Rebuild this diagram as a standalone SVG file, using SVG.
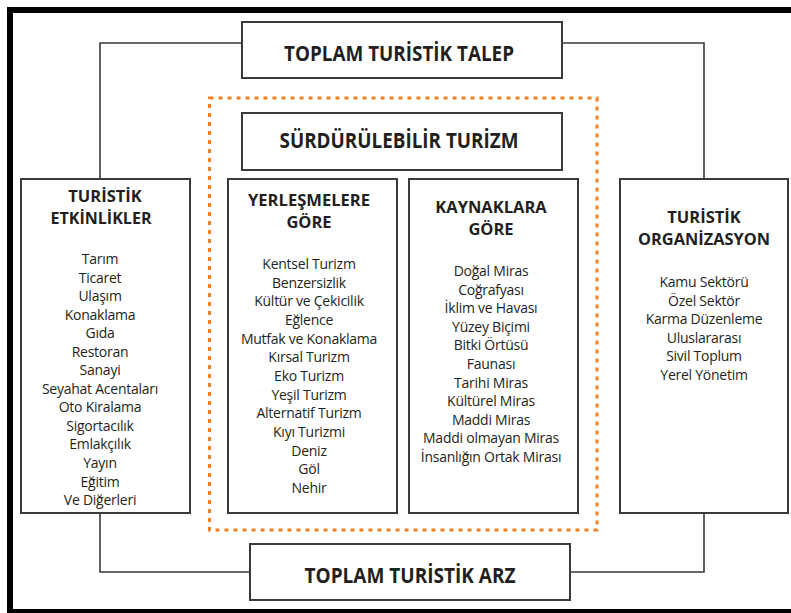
<svg xmlns="http://www.w3.org/2000/svg" width="791" height="613" viewBox="0 0 791 613">
  <style>
    .box { fill: #ffffff; stroke: #3a3a3a; stroke-width: 2; }
    .conn { fill: none; stroke: #3a3a3a; stroke-width: 1.6; }
    .big { font-family: "Open Sans", "Noto Sans", sans-serif; font-weight: bold; font-size: 21px; fill: #231f20; text-anchor: middle; }
    .ttl { font-family: "Open Sans", "Noto Sans", sans-serif; font-weight: bold; font-size: 16.5px; fill: #231f20; text-anchor: middle; }
    .itm { font-family: "Open Sans", "Noto Sans", sans-serif; font-size: 14px; fill: #231f20; text-anchor: middle; letter-spacing: -0.25px; }
  </style>
  <rect x="0" y="0" width="791" height="613" fill="#ffffff"/>
  <rect x="10" y="10" width="800" height="602" fill="none" stroke="#000000" stroke-width="6"/>

  <g id="connectors">
    <path class="conn" d="M242,43 H100 V179"/>
    <path class="conn" d="M562,43 H704 V179"/>
    <path class="conn" d="M100,513 V572 H250"/>
    <path class="conn" d="M704,513 V572 H570"/>
  </g>

  <g id="surdurulebilir-frame">
    <rect x="209.5" y="98" width="387.5" height="432" fill="none" stroke="#f47f20" stroke-width="3" stroke-dasharray="4 5"/>
  </g>

  <g id="talep">
    <rect class="box" x="242" y="22" width="320" height="56"/>
    <text class="big" x="399" y="61" textLength="230" lengthAdjust="spacingAndGlyphs">TOPLAM TURİSTİK TALEP</text>
  </g>

  <g id="surdurulebilir">
    <rect class="box" x="242" y="113" width="320" height="57"/>
    <text class="big" x="399" y="148" textLength="239" lengthAdjust="spacingAndGlyphs">SÜRDÜRÜLEBİLİR TURİZM</text>
  </g>

  <g id="arz">
    <rect class="box" x="250" y="544" width="320" height="56"/>
    <text class="big" x="410" y="583" textLength="211" lengthAdjust="spacingAndGlyphs">TOPLAM TURİSTİK ARZ</text>
  </g>

  <g id="etkinlikler">
    <rect class="box" x="21" y="179" width="169" height="334"/>
    <text class="ttl" x="105" y="202">TURİSTİK</text>
    <text class="ttl" x="101" y="224" textLength="101" lengthAdjust="spacingAndGlyphs">ETKİNLİKLER</text>
    <text class="itm" x="100" y="264">Tarım</text>
    <text class="itm" x="100" y="282.5">Ticaret</text>
    <text class="itm" x="100" y="301">Ulaşım</text>
    <text class="itm" x="100" y="319.6">Konaklama</text>
    <text class="itm" x="100" y="338.2">Gıda</text>
    <text class="itm" x="100" y="356.7">Restoran</text>
    <text class="itm" x="100" y="375.2">Sanayi</text>
    <text class="itm" x="100" y="393.8">Seyahat Acentaları</text>
    <text class="itm" x="100" y="412.3">Oto Kiralama</text>
    <text class="itm" x="100" y="430.9">Sigortacılık</text>
    <text class="itm" x="100" y="449.4">Emlakçılık</text>
    <text class="itm" x="100" y="468">Yayın</text>
    <text class="itm" x="100" y="486.5">Eğitim</text>
    <text class="itm" x="100" y="505">Ve Diğerleri</text>
  </g>

  <g id="yerlesmelere">
    <rect class="box" x="228" y="179" width="169" height="334"/>
    <text class="ttl" x="309" y="206" textLength="122" lengthAdjust="spacingAndGlyphs">YERLEŞMELERE</text>
    <text class="ttl" x="309" y="228">GÖRE</text>
    <text class="itm" x="309" y="269">Kentsel Turizm</text>
    <text class="itm" x="309" y="287.7">Benzersizlik</text>
    <text class="itm" x="309" y="306.3">Kültür ve Çekicilik</text>
    <text class="itm" x="309" y="325">Eğlence</text>
    <text class="itm" x="309" y="343.7">Mutfak ve Konaklama</text>
    <text class="itm" x="309" y="362.3">Kırsal Turizm</text>
    <text class="itm" x="309" y="381">Eko Turizm</text>
    <text class="itm" x="309" y="399.7">Yeşil Turizm</text>
    <text class="itm" x="309" y="418.3">Alternatif Turizm</text>
    <text class="itm" x="309" y="437">Kıyı Turizmi</text>
    <text class="itm" x="309" y="455.7">Deniz</text>
    <text class="itm" x="309" y="474.3">Göl</text>
    <text class="itm" x="309" y="493">Nehir</text>
  </g>

  <g id="kaynaklara">
    <rect class="box" x="409" y="179" width="169" height="334"/>
    <text class="ttl" x="491" y="213">KAYNAKLARA</text>
    <text class="ttl" x="491" y="235">GÖRE</text>
    <text class="itm" x="491" y="276">Doğal Miras</text>
    <text class="itm" x="491" y="294.6">Coğrafyası</text>
    <text class="itm" x="491" y="313.2">İklim ve Havası</text>
    <text class="itm" x="491" y="331.8">Yüzey Biçimi</text>
    <text class="itm" x="491" y="350.4">Bitki Örtüsü</text>
    <text class="itm" x="491" y="369">Faunası</text>
    <text class="itm" x="491" y="387.6">Tarihi Miras</text>
    <text class="itm" x="491" y="406.2">Kültürel Miras</text>
    <text class="itm" x="491" y="424.8">Maddi Miras</text>
    <text class="itm" x="491" y="443.4">Maddi olmayan Miras</text>
    <text class="itm" x="491" y="462">İnsanlığın Ortak Mirası</text>
  </g>

  <g id="organizasyon">
    <rect class="box" x="620" y="179" width="168" height="334"/>
    <text class="ttl" x="704" y="223">TURİSTİK</text>
    <text class="ttl" x="704" y="245" textLength="132" lengthAdjust="spacingAndGlyphs">ORGANİZASYON</text>
    <text class="itm" x="704" y="287">Kamu Sektörü</text>
    <text class="itm" x="704" y="305.5">Özel Sektör</text>
    <text class="itm" x="704" y="324">Karma Düzenleme</text>
    <text class="itm" x="704" y="342.5">Uluslararası</text>
    <text class="itm" x="704" y="361">Sivil Toplum</text>
    <text class="itm" x="704" y="379.5">Yerel Yönetim</text>
  </g>
</svg>
